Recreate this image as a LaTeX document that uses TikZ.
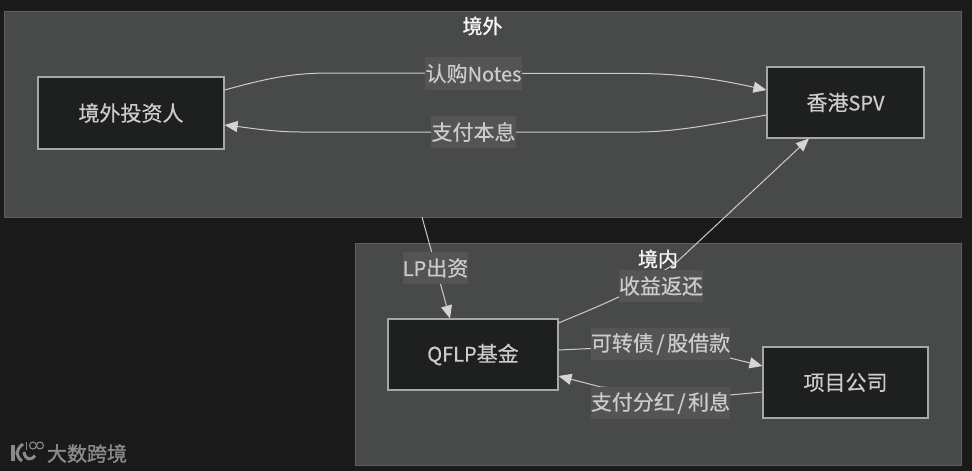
\documentclass[tikz,border=0pt]{standalone}
\usepackage{fontspec}
\setmainfont[FakeBold=0.5]{Noto Sans CJK SC}
\newfontfamily\titlefont[FakeBold=1.2]{Noto Sans CJK SC}
\newfontfamily\markfont[FakeBold=1.5]{Noto Sans CJK SC}
\usetikzlibrary{arrows.meta}
\definecolor{pagebg}{HTML}{1A1A1A}
\definecolor{clusterfill}{HTML}{484A4A}
\definecolor{clusterline}{HTML}{5E6060}
\definecolor{boxfill}{HTML}{1E2020}
\definecolor{boxline}{HTML}{A6A8A6}
\definecolor{labelfill}{HTML}{545454}
\definecolor{inktext}{HTML}{CCCCCC}
\definecolor{wedge}{HTML}{D4D4D4}
\definecolor{titletext}{HTML}{F4F4F4}
\definecolor{markgrey}{HTML}{8A8A8A}
\newcommand{\slashgap}{\kern2.5pt/\kern2.5pt}
\newcommand{\latn}[1]{{\fontsize{20}{25}\selectfont #1}}
\tikzset{
  x=1pt,y=-1pt,
  cluster/.style={draw=clusterline,fill=clusterfill,line width=1.1pt,rectangle,inner sep=0pt,anchor=north west},
  entity/.style={draw=boxline,fill=boxfill,line width=1.1pt,rectangle,inner sep=0pt,text=inktext,font=\fontsize{21}{25}\selectfont},
  edgelabel/.style={fill=labelfill,rectangle,inner sep=0pt,text=inktext,font=\fontsize{21}{25}\selectfont},
  clustertitle/.style={text=titletext,inner sep=0pt,font=\titlefont\fontsize{20}{24}\selectfont},
  wire/.style={draw=inktext,line width=1pt},
  tip/.style={wire,-{Triangle[length=13pt,width=11pt,fill=wedge,color=wedge]}},
}
\begin{document}
\begin{tikzpicture}
\useasboundingbox (0,0) rectangle (972,471);
\fill[pagebg] (0,0) rectangle (972,471);
% clusters
\node[cluster,minimum width=957pt,minimum height=206pt] (outside) at (4,11) {};
\node[cluster,minimum width=606pt,minimum height=222pt] (inside) at (355,243) {};
\node[clustertitle] (outsidetitle) at (482.5,26) {境外};
% boxes
\node[entity,minimum width=186pt,minimum height=72pt] (inv) at (131,113) {境外投资人};
\node[entity,minimum width=157pt,minimum height=71pt] (spv) at (845.5,102.5) {香港\latn{SPV}};
\node[entity,minimum width=170pt,minimum height=71pt] (qflp) at (473,354.5) {\latn{QFLP}基金};
\node[entity,minimum width=165pt,minimum height=71pt] (proj) at (845.5,382.5) {项目公司};
% connector end points on the box edges
\coordinate (invA) at (inv.east |- 0,90);
\coordinate (invB) at (inv.east |- 0,125);
\coordinate (spvA) at (spv.west |- 0,90);
\coordinate (spvB) at (spv.west |- 0,115);
\coordinate (spvC) at (809,138.5);
\coordinate (qA) at (qflp.east |- 0,323);
\coordinate (qB) at (qflp.east |- 0,350);
\coordinate (qC) at (qflp.east |- 0,376);
\coordinate (pA) at (proj.west |- 0,366);
\coordinate (pB) at (proj.west |- 0,392);
\coordinate (lpA) at (422,217);
\coordinate (lpB) at (450,318.5);
% wires under labels
\draw[tip] (invA) .. controls (265,79) and (290,73) .. (330,73) -- (640,73.5) .. controls (690,74) and (725,81) .. (spvA);
\draw[tip] (spvB) .. controls (720,123) and (680,131.5) .. (640,132) -- (300,132) .. controls (275,132) and (250,128) .. (invB);
\draw[tip] (lpA) -- (lpB);
\draw[tip] (qA) .. controls (580,314) and (600,306) .. (625,294) -- (668,268) .. controls (672,266) and (676,263) .. (680,259) -- (spvC);
\draw[tip] (qB) -- (591,348.5) -- (730,358) -- (pA);
\draw[tip] (pB) -- (730,395) -- (601,387) -- (qC);
\node[clustertitle] (insidetitle) at (658,259) {境内};
% edge labels
\node[edgelabel,minimum width=97pt,minimum height=33pt] (l1) at (473.5,73.5) {认购\latn{Notes}};
\node[edgelabel,minimum width=85pt,minimum height=32pt] (l2) at (473.5,132) {支付本息};
\node[edgelabel,minimum width=65pt,minimum height=32pt] (l3) at (435.5,268) {\latn{LP}出资};
\node[edgelabel,minimum width=84pt,minimum height=32pt] (l4) at (661,286) {收益返还};
\node[edgelabel,minimum width=139pt,minimum height=32pt] (l5) at (660.5,344) {可转债\slashgap 股借款};
\node[edgelabel,minimum width=139pt,minimum height=32pt] (l6) at (660.5,403) {支付分红\slashgap 利息};
% watermark
\fill[markgrey] (10.5,445) rectangle (14.5,461);
\draw[markgrey,line width=3pt] (23,444) .. controls (19,447) and (17.5,450) .. (17,453) .. controls (17.5,456) and (19,459) .. (22,461);
\draw[markgrey,line width=3pt] (24,452) .. controls (25,460) and (31,461) .. (35,455.5);
\draw[markgrey,line width=1.1pt] (26.5,442) -- (26.5,449.5);
\draw[markgrey,line width=1.1pt] (33,445.5) circle (3.5pt);
\draw[markgrey,line width=1.1pt] (40,445.5) circle (3.5pt);
\node[text=markgrey,inner sep=0pt,font=\markfont\fontsize{20}{24}\selectfont] (mark) at (87,453.5) {大数跨境};
\end{tikzpicture}
\end{document}
